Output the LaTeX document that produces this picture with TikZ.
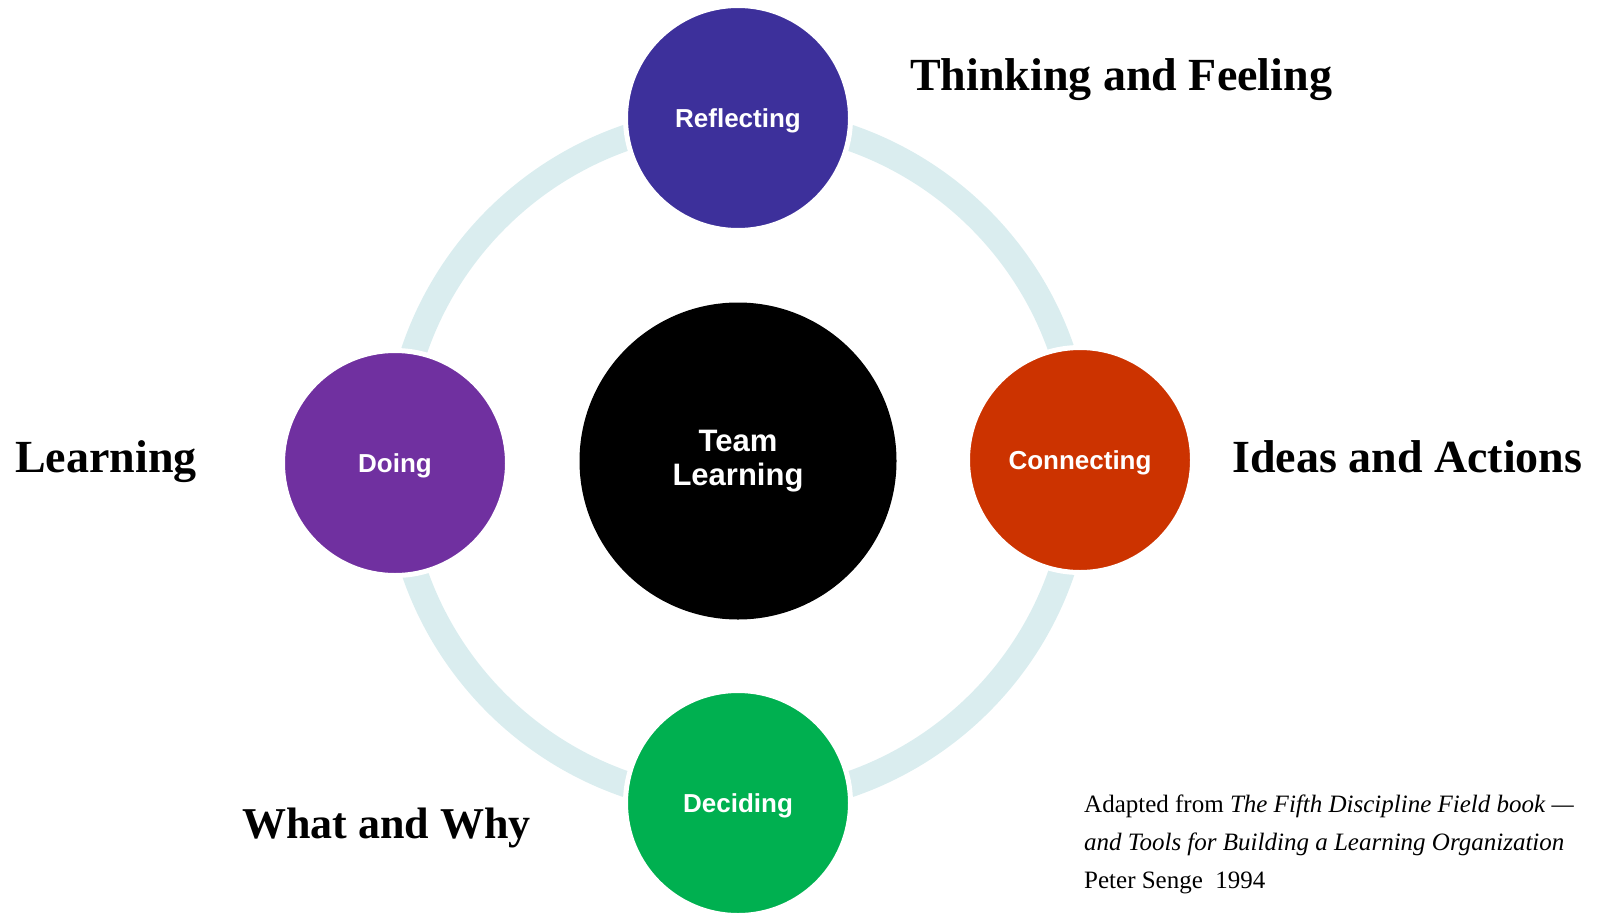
\documentclass[tikz,border=0pt]{standalone}
\usepackage{fontspec}
\setmainfont{Liberation Serif}
\setsansfont{Liberation Sans}
\usetikzlibrary{backgrounds}
\definecolor{ringc}{HTML}{DAEDEF}
\definecolor{reflc}{HTML}{3D309B}
\definecolor{doingc}{HTML}{7030A0}
\definecolor{connc}{HTML}{CC3300}
\definecolor{decc}{HTML}{00B050}
\begin{document}
\begin{tikzpicture}[x=1pt,y=-1pt,
  sat/.style={circle, minimum size=225pt, inner sep=0pt, draw=white, line width=5pt, text=white,
    text height=19pt, text depth=1pt,
    font=\sffamily\bfseries\fontsize{26}{30}\selectfont},
  hub/.style={circle, minimum size=317pt, inner sep=0pt, fill=black, text=white, align=center,
    font=\sffamily\bfseries\fontsize{31}{34}\selectfont},
  lbl/.style={anchor=base west, inner sep=0pt, font=\bfseries\fontsize{46}{50}\selectfont},
  cite/.style={anchor=base west, inner sep=0pt, align=left, font=\fontsize{25}{38}\selectfont},
  ringline/.style={draw=ringc, line width=26pt}]
\useasboundingbox (0,0) rectangle (1600,913);
\node[hub] (team) at (738,461) {Team\\Learning};
\node[sat, fill=reflc] (refl) at (738,118) {Reflecting};
\node[sat, fill=doingc] (doing) at (395,463) {Doing};
\node[sat, fill=connc] (conn) at (1080,460) {Connecting};
\node[sat, fill=decc] (dec) at (738,803) {Deciding};
\begin{pgfonlayer}{background}
\draw[ringline] (team.center) circle[radius=342pt];
\end{pgfonlayer}
\node[lbl] (thinking) at (910,90) {Thinking and Feeling};
\node[lbl] (ideas) at (1232,472) {Ideas and Actions};
\node[lbl] (learning) at (15,472) {Learning};
\node[lbl, font=\bfseries\fontsize{44}{50}\selectfont] (whatwhy) at (242,838) {What and Why};
\node[cite] (source) at (1084,888) {Adapted from \textit{The Fifth Discipline Field book —}\\\textit{and Tools for Building a Learning Organization}\\Peter Senge\ \ 1994};
\end{tikzpicture}
\end{document}
